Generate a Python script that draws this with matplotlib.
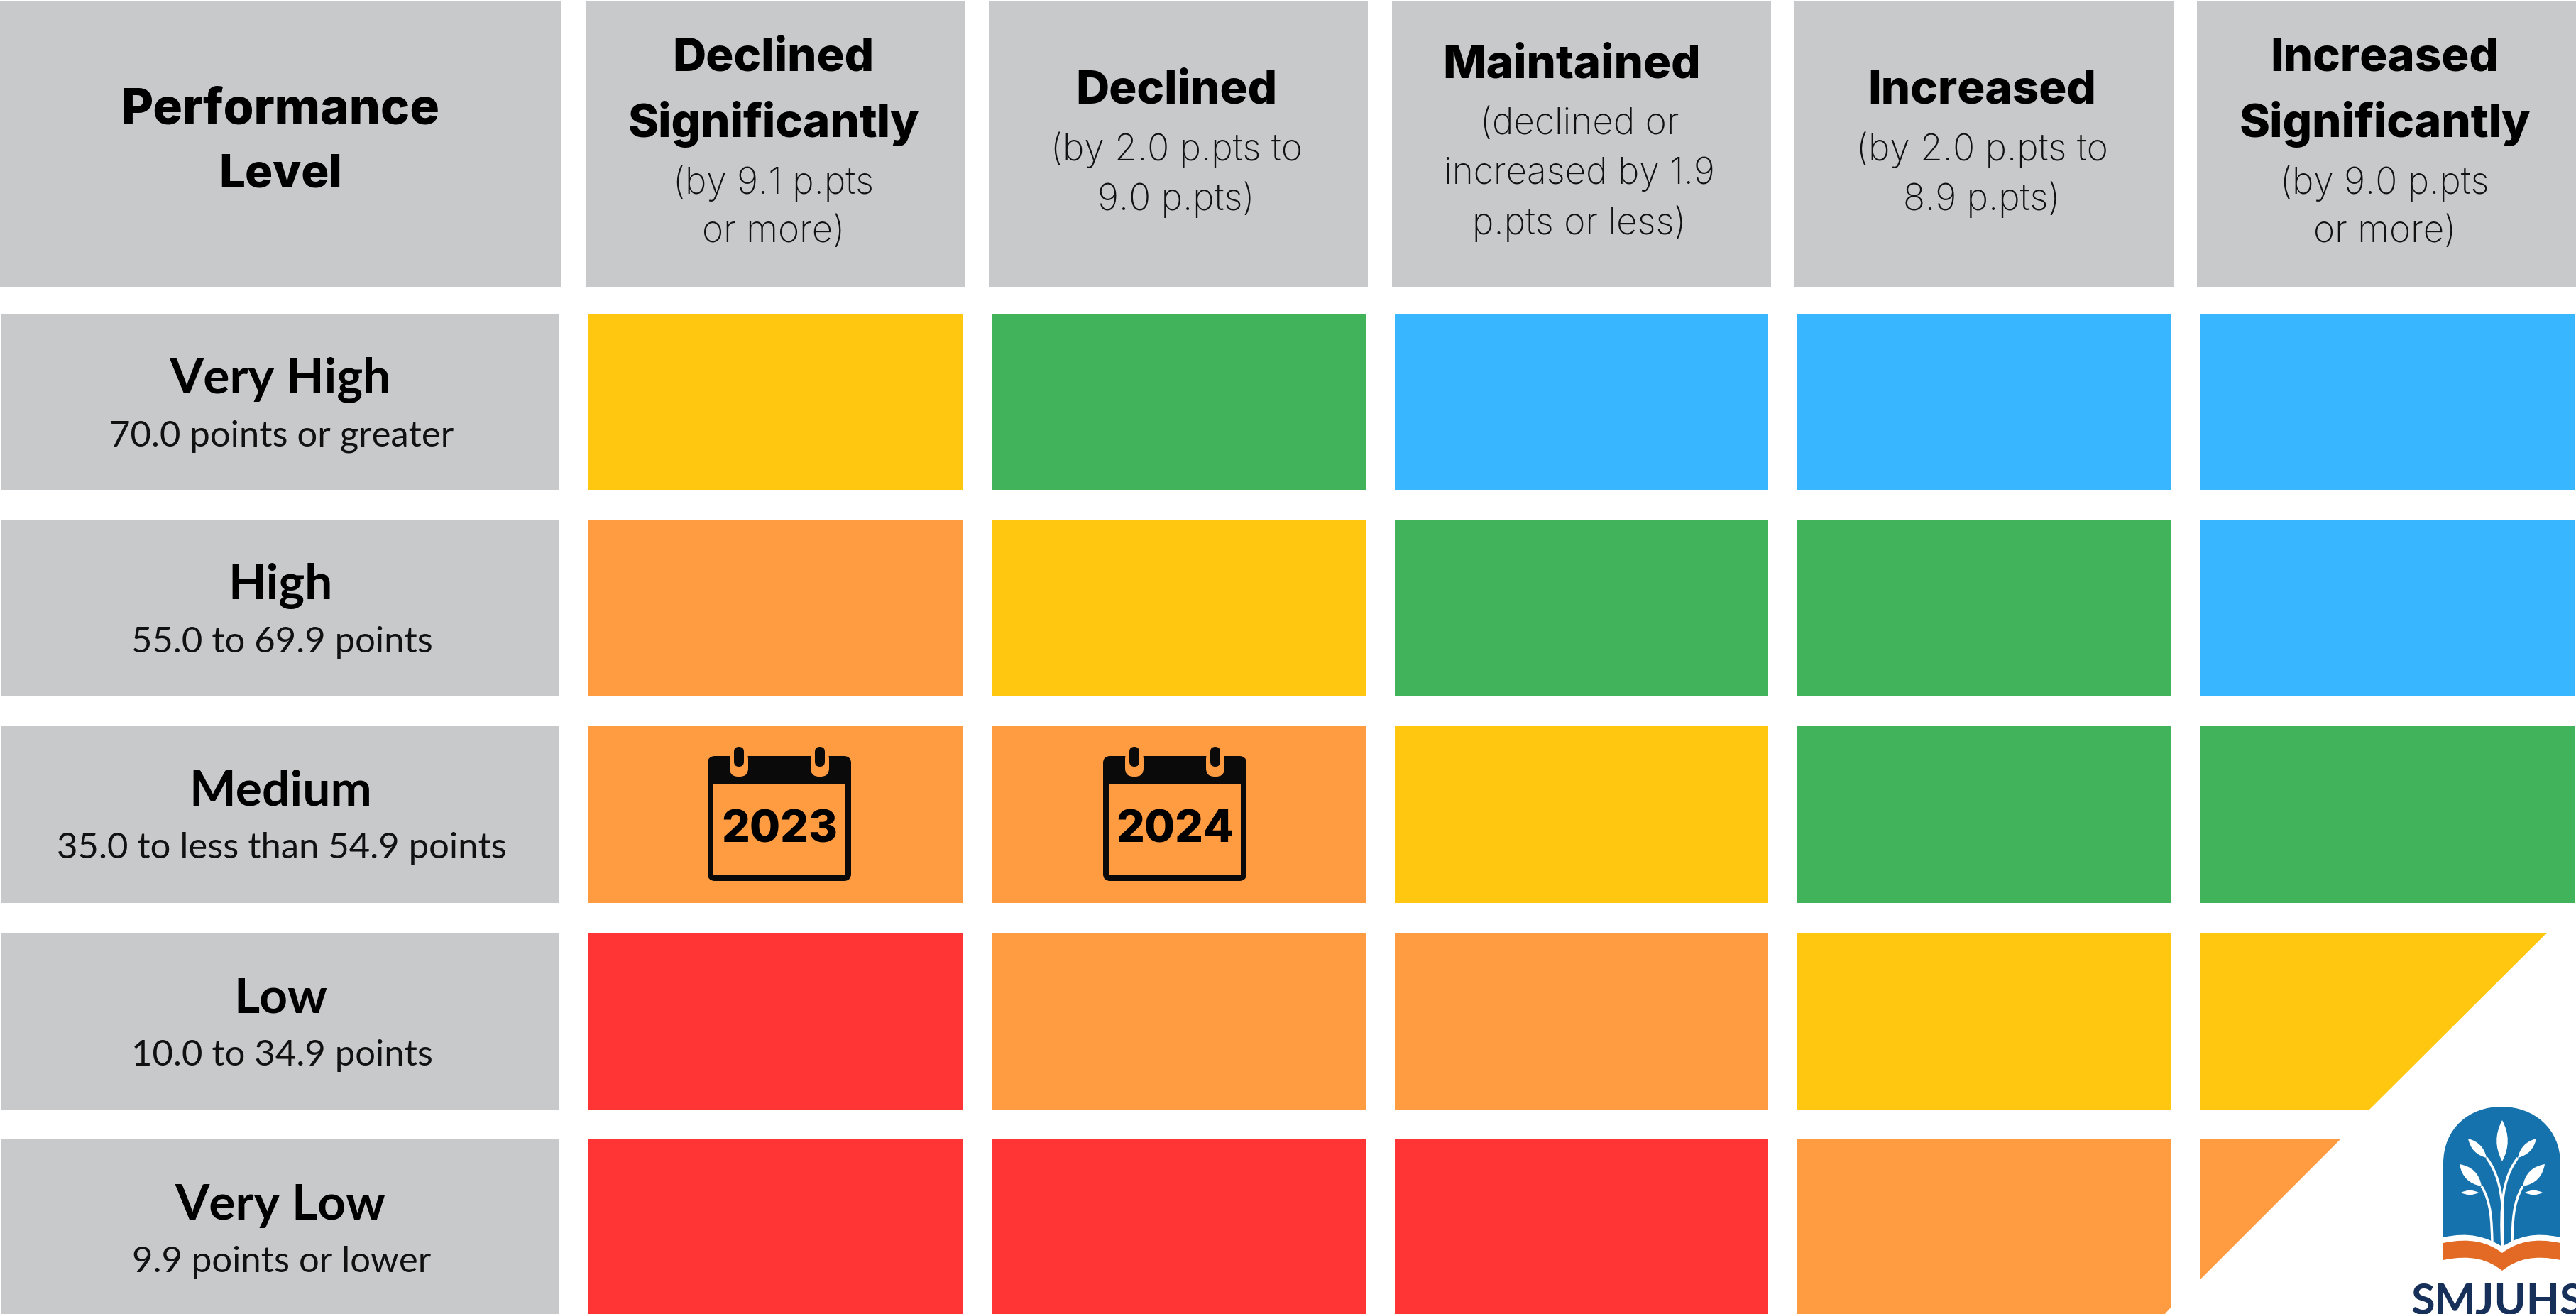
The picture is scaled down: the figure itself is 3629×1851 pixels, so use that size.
"""Performance level / change grid with the two calendar markers and the district logo."""

import matplotlib
matplotlib.use("Agg")
import matplotlib.pyplot as plt
from matplotlib.patches import FancyBboxPatch, PathPatch, Polygon, Rectangle
from matplotlib.path import Path

W, H = 3630, 1851

# status names and colours
COLORS = {
    "blue": "#38b6ff",
    "green": "#41b35a",
    "yellow": "#ffc710",
    "orange": "#ff9c42",
    "red": "#ff3434",
}
GREY = "#c8c9cb"

LEVELS = ["Very High", "High", "Medium", "Low", "Very Low"]
LEVEL_RANGES = [
    "70.0 points or greater",
    "55.0 to 69.9 points",
    "35.0 to less than 54.9 points",
    "10.0 to 34.9 points",
    "9.9 points or lower",
]
CHANGES = [
    ["Declined", "Significantly"],
    ["Declined"],
    ["Maintained"],
    ["Increased"],
    ["Increased", "Significantly"],
]
CHANGE_RANGES = [
    ["(by 9.1 p.pts", "or more)"],
    ["(by 2.0 p.pts to", "9.0 p.pts)"],
    ["(declined or", "increased by 1.9", "p.pts or less)"],
    ["(by 2.0 p.pts to", "8.9 p.pts)"],
    ["(by 9.0 p.pts", "or more)"],
]
GRID = [
    ["yellow", "green", "blue", "blue", "blue"],
    ["orange", "yellow", "green", "green", "blue"],
    ["orange", "orange", "yellow", "green", "green"],
    ["red", "orange", "orange", "yellow", "yellow"],
    ["red", "red", "red", "orange", "orange"],
]
CALENDARS = [("2023", 0), ("2024", 1)]  # year, column in the Medium row

# layout, in pixels of the output image
COL_X = [(829, 1356), (1397, 1924), (1965, 2491), (2532, 3058), (3100, 3628)]
HEAD_X = [(0, 791), (826, 1359), (1393, 1927), (1961, 2495), (2528, 3062), (3095, 3630)]
ROW_Y = [(442, 690), (732, 981), (1022, 1272), (1314, 1563), (1605, 1860)]
LABEL_X = (2, 788)

HEAD_FONT = "Inter"
NAME_FONT = "Lato"
BODY_FONT = "Lato"
THIN_FONT = "Inter"

plt.rcParams["font.family"] = ["Lato", "DejaVu Sans"]

fig = plt.figure(figsize=(W / 100, H / 100), dpi=100, facecolor="white")
ax = fig.add_axes([0, 0, 1, 1])
ax.set_xlim(0, W)
ax.set_ylim(H, 0)
ax.axis("off")


def rect(x0, x1, y0, y1, color):
    ax.add_patch(Rectangle((x0, y0), x1 - x0, y1 - y0, facecolor=color, edgecolor="none"))


# header row
for x0, x1 in HEAD_X:
    rect(x0, x1, 2, 404, GREY)
ax.text(395, 156, "Performance", ha="center", va="center", fontsize=50, fontweight="heavy", family=HEAD_FONT)
ax.text(395, 247, "Level", ha="center", va="center", fontsize=47, fontweight="heavy", family=HEAD_FONT)

for (x0, x1), names, ranges in zip(HEAD_X[1:], CHANGES, CHANGE_RANGES):
    cx = (x0 + x1) / 2
    n = len(names) + len(ranges)
    y = {4: 83, 3: 129}[n] if names != ["Maintained"] else 92
    for name in names:
        nx = cx - 14 if name == "Maintained" else cx - 3
        ax.text(nx, y, name, ha="center", va="center", fontsize=47, fontweight="heavy", family=HEAD_FONT)
        y += 92
    if len(names) == 2:
        y -= 9
    else:
        y -= 10
    if names == ["Maintained"]:
        y += 1
    for line in ranges:
        ax.text(cx - 3, y, line, ha="center", va="center", fontsize=37, fontweight="light", color="#111111", family=THIN_FONT)
        y += 70

# row labels
for (y0, y1), name, rng in zip(ROW_Y, LEVELS, LEVEL_RANGES):
    rect(LABEL_X[0], LABEL_X[1], y0, min(y1, H), GREY)
    ax.text(395, y0 + 93, name, ha="center", va="center", fontsize=50, fontweight="bold", family=NAME_FONT)
    ax.text(397, y0 + 173, rng, ha="center", va="center", fontsize=36.5, color="#111111", family=BODY_FONT)

# colour grid, last column cut by the diagonal
for r, (y0, y1) in enumerate(ROW_Y):
    for c, (x0, x1) in enumerate(COL_X):
        color = COLORS[GRID[r][c]]
        if r == 3 and c == 4:
            ax.add_patch(Polygon([(x0, y0), (3588, y0), (3338, y1), (x0, y1)], facecolor=color, edgecolor="none"))
        elif r == 4 and c == 4:
            ax.add_patch(Polygon([(x0, y0), (3297, y0), (x0, 1802)], facecolor=color, edgecolor="none"))
        elif r == 4 and c == 3:
            ax.add_patch(Polygon([(x0, y0), (x1, y0), (x1, 1842), (3049, H + 1), (x0, H + 1)], facecolor=color, edgecolor="none"))
        else:
            rect(x0, x1, y0, y1, color)

# calendars
INK = "#0a0a0a"
for year, c in CALENDARS:
    left = 997 + c * 557
    right = left + 202
    bg = COLORS[GRID[2][c]]
    ax.add_patch(FancyBboxPatch((left + 6, 1071), right - left - 12, 164, boxstyle="round,pad=6,rounding_size=10",
                                facecolor=INK, edgecolor="none"))
    rect(left + 8, right - 8, 1105, 1233, bg)
    for rx in (left + 44, left + 158):
        ax.add_patch(FancyBboxPatch((rx - 7, 1063), 14, 25, boxstyle="round,pad=6,rounding_size=12",
                                    facecolor=bg, edgecolor="none"))
        ax.add_patch(FancyBboxPatch((rx - 3, 1056), 6, 20, boxstyle="round,pad=4,rounding_size=7",
                                    facecolor=INK, edgecolor="none"))
    ax.text((left + right) / 2, 1170, year, ha="center", va="center", fontsize=45, fontweight="heavy", color="black", family=HEAD_FONT)

# logo
BLUE = "#1572ac"
BOOK = "#e26a24"
arch = Path(
    [(3442, 1743), (3442, 1639), (3442, 1590), (3478, 1559), (3524, 1559), (3570, 1559), (3607, 1590), (3607, 1639),
     (3607, 1743), (3570, 1735), (3548, 1742), (3525, 1756), (3502, 1742), (3478, 1735), (3442, 1743)],
    [Path.MOVETO, Path.LINETO, Path.CURVE4, Path.CURVE4, Path.CURVE4, Path.CURVE4, Path.CURVE4, Path.CURVE4,
     Path.LINETO, Path.CURVE4, Path.CURVE4, Path.CURVE4, Path.CURVE4, Path.CURVE4, Path.CURVE4],
)
ax.add_patch(PathPatch(arch, facecolor=BLUE, edgecolor="none"))
book = Path(
    [(3442, 1751), (3480, 1743), (3505, 1750), (3525, 1765), (3545, 1750), (3570, 1743), (3607, 1751), (3607, 1775),
     (3570, 1767), (3545, 1774), (3525, 1790), (3505, 1774), (3480, 1767), (3442, 1775), (3442, 1751)],
    [Path.MOVETO, Path.CURVE4, Path.CURVE4, Path.CURVE4, Path.CURVE4, Path.CURVE4, Path.CURVE4, Path.LINETO,
     Path.CURVE4, Path.CURVE4, Path.CURVE4, Path.CURVE4, Path.CURVE4, Path.LINETO, Path.LINETO],
)
ax.add_patch(PathPatch(book, facecolor=BOOK, edgecolor="none"))


def leaf(tip, base, bulge):
    """White leaf from tip to base, bulge is half its width."""
    (x0, y0), (x1, y1) = tip, base
    dx, dy = x1 - x0, y1 - y0
    nx, ny = -dy, dx
    ln = (nx ** 2 + ny ** 2) ** 0.5
    nx, ny = nx / ln * bulge, ny / ln * bulge
    mx, my = (x0 + x1) / 2, (y0 + y1) / 2
    verts = [(x0, y0), (mx + 1.3 * nx, my + 1.3 * ny), (x1, y1), (mx - 1.3 * nx, my - 1.3 * ny), (x0, y0)]
    codes = [Path.MOVETO, Path.CURVE3, Path.CURVE3, Path.CURVE3, Path.CURVE3]
    ax.add_patch(PathPatch(Path(verts, codes), facecolor="white", edgecolor="none"))


leaf((3525, 1578), (3525, 1636), 12)
leaf((3477, 1604), (3503, 1631), 9)
leaf((3573, 1604), (3547, 1631), 9)
leaf((3465, 1640), (3496, 1671), 12)
leaf((3585, 1640), (3554, 1671), 12)
leaf((3467, 1680), (3492, 1680), 5)
leaf((3582, 1680), (3557, 1680), 5)

for stem in (
    [(3503, 1631), (3525, 1660), (3528, 1700), (3525, 1756)],
    [(3547, 1631), (3525, 1660), (3522, 1700), (3525, 1756)],
    [(3496, 1671), (3510, 1695), (3510, 1720), (3511, 1750)],
    [(3554, 1671), (3540, 1695), (3540, 1720), (3539, 1750)],
):
    ax.add_patch(PathPatch(Path(stem, [Path.MOVETO, Path.CURVE4, Path.CURVE4, Path.CURVE4]),
                           facecolor="none", edgecolor="white", linewidth=2.5))

ax.text(3397, 1806, "SMJUHSD", ha="left", va="top", fontsize=44, fontweight="bold", color="#16305a",
        family="Lato", clip_on=False)

fig.savefig("out.png", dpi=100, facecolor="white")
